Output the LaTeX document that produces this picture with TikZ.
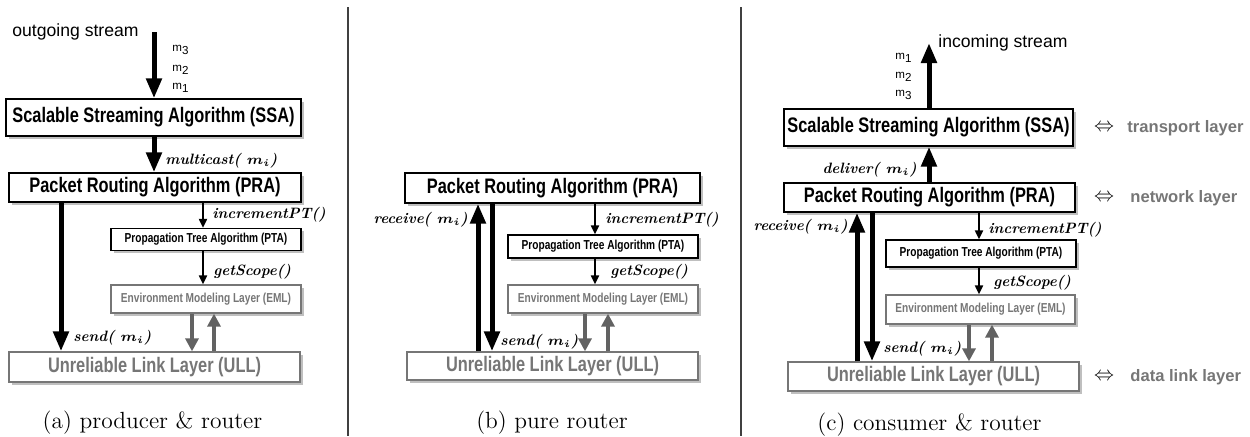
\documentclass[tikz,border=0pt]{standalone}
\usepackage{amsmath}
\usepackage{fontspec}
\setsansfont{Liberation Sans}
\newfontfamily\narrowfont[FakeStretch=0.78]{Liberation Sans}
\usetikzlibrary{arrows.meta,shadows}
\definecolor{lgray}{RGB}{118,118,118}
\definecolor{agray}{RGB}{98,98,98}
\newcommand{\msub}[1]{m\raisebox{-0.6ex}{#1}}
\newcommand{\msgi}{$\boldsymbol{m_i}$}
\tikzset{
  layer/.style={draw=black,line width=0.65pt,fill=white,inner sep=0pt,
    font=\narrowfont\bfseries\fontsize{10.5}{12}\selectfont,
    drop shadow={shadow xshift=1.3pt,shadow yshift=-1.3pt,opacity=0.5}},
  sublayer/.style={layer,font=\narrowfont\bfseries\fontsize{6.5}{8}\selectfont},
  greylayer/.style={draw=lgray,text=lgray},
  flow/.style={line width=2.5pt,-{Triangle[length=10pt,width=7.5pt]}},
  call/.style={line width=1pt,-{Triangle[length=4.5pt,width=4pt]}},
  grayflow/.style={agray,line width=2.2pt,-{Triangle[length=6.5pt,width=6.5pt]}},
  fname/.style={font=\fontsize{7.5}{9}\selectfont\bfseries\itshape,inner sep=0pt},
  stream/.style={font=\sffamily\fontsize{8.8}{10}\selectfont,inner sep=0pt,anchor=west},
  msg/.style={font=\sffamily\fontsize{5.8}{7}\selectfont,inner sep=0pt,anchor=west},
  osi/.style={font=\sffamily\bfseries\fontsize{8.3}{10}\selectfont,text=lgray,inner sep=0pt,anchor=west},
  equiv/.style={font=\fontsize{10}{12}\selectfont,inner sep=0pt},
  caption/.style={font=\fontsize{11.7}{14}\selectfont,inner sep=0pt}
}

\begin{document}
\begin{tikzpicture}[x=0.5pt,y=-0.5pt]
  \useasboundingbox (0,0) rectangle (1250,436);
  % panel separators
  \draw[line width=0.6pt,black!75] (348,7) -- (348,436);
  \draw[line width=0.6pt,black!75] (741,7) -- (741,436);

  % (a) producer & router
  \coordinate (srcA) at (154,32);
  \coordinate (sendA) at (61,0);
  \coordinate (callA) at (203,0);
  \coordinate (downA) at (192,0);
  \coordinate (upA) at (214,0);
  \node[stream] (outA) at (12,32) {outgoing stream};
  \foreach \k/\y in {3/50,2/70,1/88} \node[msg] (mA\k) at (172,\y) {\msub{\k}};
  \node[layer,minimum width=147.5pt,minimum height=18.5pt] (ssaA) at (153.5,117.5) {Scalable Streaming Algorithm (SSA)};
  \node[layer,minimum width=146pt,minimum height=14.5pt] (praA) at (155,187.5) {Packet Routing Algorithm (PRA)};
  \node[sublayer,minimum width=95pt,minimum height=11pt] (ptaA) at (206,239.5) {Propagation Tree Algorithm (PTA)};
  \node[sublayer,greylayer,minimum width=95pt,minimum height=14pt] (emlA) at (206,299) {Environment Modeling Layer (EML)};
  \node[layer,greylayer,minimum width=145.5pt,minimum height=15pt] (ullA) at (154.5,367) {Unreliable Link Layer (ULL)};
  \draw[flow] (srcA) -- (ssaA.north -| srcA);
  \draw[flow] (ssaA.south -| srcA) -- (praA.north -| srcA);
  \draw[flow] (praA.south -| sendA) -- (ullA.north -| sendA);
  \draw[call] (praA.south -| callA) -- (ptaA.north -| callA);
  \draw[call] (ptaA.south -| callA) -- (emlA.north -| callA);
  \draw[grayflow] (emlA.south -| downA) -- (ullA.north -| downA);
  \draw[grayflow] (ullA.north -| upA) -- (emlA.south -| upA);
  \node[fname,anchor=west] (mcA) at (165,161) {multicast( \msgi)};
  \node[fname,anchor=west] (incA) at (212,215) {incrementPT()};
  \node[fname,anchor=west] (scA) at (213,272) {getScope()};
  \node[fname,anchor=west] (sdA) at (73,338) {send( \msgi)};
  \node[caption] (capA) at (152.5,423) {(a) producer \& router};

  % (b) pure router
  \coordinate (recvB) at (478,0);
  \coordinate (sendB) at (492,0);
  \coordinate (callB) at (595,0);
  \coordinate (downB) at (585,0);
  \coordinate (upB) at (608,0);
  \node[layer,minimum width=147.5pt,minimum height=15pt] (praB) at (552.5,188) {Packet Routing Algorithm (PRA)};
  \node[sublayer,minimum width=95pt,minimum height=11.5pt] (ptaB) at (603,246.5) {Propagation Tree Algorithm (PTA)};
  \node[sublayer,greylayer,minimum width=95pt,minimum height=14pt] (emlB) at (603,299) {Environment Modeling Layer (EML)};
  \node[layer,greylayer,minimum width=145.5pt,minimum height=14pt] (ullB) at (552.5,366) {Unreliable Link Layer (ULL)};
  \draw[flow] (ullB.north -| recvB) -- (praB.south -| recvB);
  \draw[flow] (praB.south -| sendB) -- (ullB.north -| sendB);
  \draw[call] (praB.south -| callB) -- (ptaB.north -| callB);
  \draw[call] (ptaB.south -| callB) -- (emlB.north -| callB);
  \draw[grayflow] (emlB.south -| downB) -- (ullB.north -| downB);
  \draw[grayflow] (ullB.north -| upB) -- (emlB.south -| upB);
  \node[fname,anchor=east] (rcB) at (468,220) {receive( \msgi)};
  \node[fname,anchor=west] (incB) at (605,220) {incrementPT()};
  \node[fname,anchor=west] (scB) at (610,272) {getScope()};
  \node[fname,anchor=west] (sdB) at (500,342) {send( \msgi)};
  \node[caption] (capB) at (552,423) {(b) pure router};

  % (c) consumer & router
  \coordinate (sinkC) at (929,43);
  \coordinate (recvC) at (857,0);
  \coordinate (sendC) at (872,0);
  \coordinate (callC) at (979,0);
  \coordinate (downC) at (969,0);
  \coordinate (upC) at (992,0);
  \node[stream] (inC) at (938,43) {incoming stream};
  \foreach \k/\y in {1/58,2/77,3/95} \node[msg] (mC\k) at (895,\y) {\msub{\k}};
  \node[layer,minimum width=144.5pt,minimum height=18.5pt] (ssaC) at (928.5,127.5) {Scalable Streaming Algorithm (SSA)};
  \node[layer,minimum width=145.5pt,minimum height=14.5pt] (praC) at (929.5,197.5) {Packet Routing Algorithm (PRA)};
  \node[sublayer,minimum width=95pt,minimum height=13.5pt] (ptaC) at (981,253.5) {Propagation Tree Algorithm (PTA)};
  \node[sublayer,greylayer,minimum width=94.5pt,minimum height=14.5pt] (emlC) at (980.5,309.5) {Environment Modeling Layer (EML)};
  \node[layer,greylayer,minimum width=145.5pt,minimum height=14.5pt] (ullC) at (933.5,376.5) {Unreliable Link Layer (ULL)};
  \draw[flow] (ssaC.north -| sinkC) -- (sinkC);
  \draw[flow] (praC.north -| sinkC) -- (ssaC.south -| sinkC);
  \draw[flow] (ullC.north -| recvC) -- (praC.south -| recvC);
  \draw[flow] (praC.south -| sendC) -- (ullC.north -| sendC);
  \draw[call] (praC.south -| callC) -- (ptaC.north -| callC);
  \draw[call] (ptaC.south -| callC) -- (emlC.north -| callC);
  \draw[grayflow] (emlC.south -| downC) -- (ullC.north -| downC);
  \draw[grayflow] (ullC.north -| upC) -- (emlC.south -| upC);
  \node[fname,anchor=east] (dlC) at (917,170) {deliver( \msgi)};
  \node[fname,anchor=east] (rcC) at (848,227) {receive( \msgi)};
  \node[fname,anchor=west] (incC) at (988,230) {incrementPT()};
  \node[fname,anchor=west] (scC) at (993,283) {getScope()};
  \node[fname,anchor=west] (sdC) at (883,349) {send( \msgi)};
  \node[equiv] (eqT) at (1104,128) {$\Leftrightarrow$};
  \node[osi] (tlC) at (1127,128) {transport layer};
  \node[equiv] (eqN) at (1104,198) {$\Leftrightarrow$};
  \node[osi] (nlC) at (1130,198) {network layer};
  \node[equiv] (eqD) at (1104,377) {$\Leftrightarrow$};
  \node[osi] (dlkC) at (1130,377) {data link layer};
  \node[caption] (capC) at (929.5,425) {(c) consumer \& router};
\end{tikzpicture}
\end{document}
